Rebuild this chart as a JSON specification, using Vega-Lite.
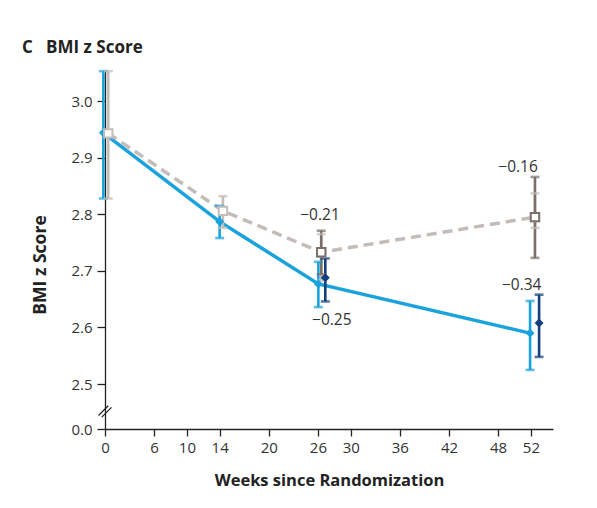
{
  "$schema": "https://vega.github.io/schema/vega-lite/v6.json",
  "width": 448,
  "height": 359,
  "autosize": {"type": "none"},
  "padding": {"left": 105, "top": 70, "right": 44, "bottom": 79},
  "background": "white",
  "config": {
    "view": {"stroke": null},
    "font": "Open Sans",
    "axis": {
      "grid": false,
      "domainColor": "#222",
      "tickColor": "#222",
      "domainWidth": 1.3,
      "tickWidth": 1.3,
      "labelColor": "#333",
      "labelFontSize": 15,
      "labelFlush": false,
      "titleColor": "#222",
      "titleFontWeight": "bold"
    }
  },
  "title": {
    "text": "C\u00a0\u00a0\u00a0BMI z Score",
    "anchor": "start",
    "frame": "group",
    "dx": -83,
    "dy": 17,
    "offset": 17,
    "baseline": "alphabetic",
    "fontSize": 17,
    "fontWeight": "bold",
    "color": "#222"
  },
  "datasets": {
    "means": [
      {"series": "Intervention, observed", "x": -0.2, "y": 2.944, "lo": 2.828, "hi": 3.053},
      {"series": "Intervention, observed", "x": 14.0, "y": 2.787, "lo": 2.758, "hi": 2.815},
      {"series": "Intervention, observed", "x": 26.05, "y": 2.677, "lo": 2.636, "hi": 2.716},
      {"series": "Intervention, observed", "x": 51.9, "y": 2.59, "lo": 2.525, "hi": 2.647},
      {"series": "Control, observed", "x": 0.4, "y": 2.943, "lo": 2.828, "hi": 3.053},
      {"series": "Control, observed", "x": 14.4, "y": 2.806, "lo": 2.776, "hi": 2.832},
      {"series": "Control, observed", "x": 26.4, "y": 2.733, "lo": 2.683, "hi": 2.765},
      {"series": "Control, observed", "x": 52.5, "y": 2.795, "lo": 2.776, "hi": 2.837},
      {"series": "Intervention, adjusted", "x": 26.9, "y": 2.688, "lo": 2.646, "hi": 2.722},
      {"series": "Intervention, adjusted", "x": 53.0, "y": 2.608, "lo": 2.548, "hi": 2.658},
      {"series": "Control, adjusted", "x": 26.4, "y": 2.733, "lo": 2.694, "hi": 2.771},
      {"series": "Control, adjusted", "x": 52.5, "y": 2.795, "lo": 2.723, "hi": 2.866}
    ],
    "labels": [
      {"label": "−0.21", "x": 26.25, "y": 2.79},
      {"label": "−0.25", "x": 27.69, "y": 2.605},
      {"label": "−0.16", "x": 50.43, "y": 2.875},
      {"label": "−0.34", "x": 50.88, "y": 2.6665}
    ],
    "brk": [{"x": 0, "y": 2.453}]
  },
  "encoding": {
    "x": {
      "field": "x", "type": "quantitative",
      "scale": {"domain": [0, 54.7], "nice": false, "zero": false},
      "axis": {
        "values": [0, 6, 10, 14, 20, 26, 30, 36, 42, 48, 52],
        "tickSize": 7,
        "labelPadding": 4,
        "title": "Weeks since Randomization",
        "titleFontSize": 16.5,
        "titleY": 56,
        "titleBaseline": "alphabetic"
      }
    },
    "y": {
      "field": "y", "type": "quantitative",
      "scale": {"domain": [2.4206, 3.055], "nice": false, "zero": false},
      "axis": {
        "values": [2.4206, 2.5, 2.6, 2.7, 2.8, 2.9, 3.0],
        "labelExpr": "datum.value < 2.45 ? '0.0' : format(datum.value, '.1f')",
        "tickSize": 8,
        "labelPadding": 5,
        "title": "BMI z Score",
        "titleFontSize": 17.5,
        "titleX": -60,
        "titleY": 194.5,
        "titleAngle": 270,
        "titleAlign": "center",
        "titleBaseline": "alphabetic"
      }
    }
  },
  "layer": [
    {
      "data": {"name": "means"},
      "transform": [{"filter": "datum.series === 'Intervention, observed'"}],
      "mark": {"type": "line", "color": "#1aa2dc", "strokeWidth": 3.5},
      "encoding": {"order": {"field": "x"}}
    },
    {
      "data": {"name": "means"},
      "transform": [{"filter": "datum.series === 'Control, observed'"}],
      "mark": {"type": "line", "color": "#c3bcb8", "strokeWidth": 3.5, "strokeDash": [10, 6]},
      "encoding": {"order": {"field": "x"}}
    },
    {
      "data": {"name": "means"},
      "mark": {"type": "rule", "strokeWidth": 2.6},
      "encoding": {
        "y": {"field": "lo", "type": "quantitative"},
        "y2": {"field": "hi"},
        "color": {
          "field": "series", "type": "nominal", "legend": null,
          "scale": {"domain": ["Intervention, observed", "Control, observed", "Intervention, adjusted", "Control, adjusted"], "range": ["#1aa2dc", "#c3bcb8", "#123f7c", "#7c6f6a"]}
        }
      }
    },
    {
      "data": {"name": "means"},
      "mark": {"type": "tick", "orient": "horizontal", "size": 9, "thickness": 2.6},
      "encoding": {
        "y": {"field": "lo", "type": "quantitative"},
        "color": {"field": "series", "type": "nominal", "legend": null}
      }
    },
    {
      "data": {"name": "means"},
      "mark": {"type": "tick", "orient": "horizontal", "size": 9, "thickness": 2.6},
      "encoding": {
        "y": {"field": "hi", "type": "quantitative"},
        "color": {"field": "series", "type": "nominal", "legend": null}
      }
    },
    {
      "data": {"name": "means"},
      "transform": [{"filter": "indexof(datum.series, 'Intervention') === 0"}],
      "mark": {"type": "point", "shape": "diamond", "filled": true, "size": 80, "opacity": 1},
      "encoding": {
        "color": {"field": "series", "type": "nominal", "legend": null}
      }
    },
    {
      "data": {"name": "means"},
      "transform": [{"filter": "indexof(datum.series, 'Control') === 0"}],
      "mark": {"type": "point", "shape": "square", "fill": "white", "filled": false, "strokeWidth": 2, "size": 70, "opacity": 1, "fillOpacity": 1},
      "encoding": {
        "stroke": {
          "field": "series", "type": "nominal", "legend": null,
          "scale": {"domain": ["Intervention, observed", "Control, observed", "Intervention, adjusted", "Control, adjusted"], "range": ["#1aa2dc", "#c3bcb8", "#123f7c", "#7c6f6a"]}
        }
      }
    },
    {
      "data": {"name": "labels"},
      "mark": {"type": "text", "align": "center", "baseline": "alphabetic", "fontSize": 15.5, "color": "#333"},
      "encoding": {
        "text": {"field": "label"}
      }
    },
    {
      "data": {"name": "brk"},
      "mark": {"type": "point", "shape": "M-1,0.75L0.5,-0.75M-0.5,1L1,-0.5", "filled": false, "size": 169, "stroke": "#222", "strokeWidth": 1.3, "opacity": 1}
    }
  ]
}
